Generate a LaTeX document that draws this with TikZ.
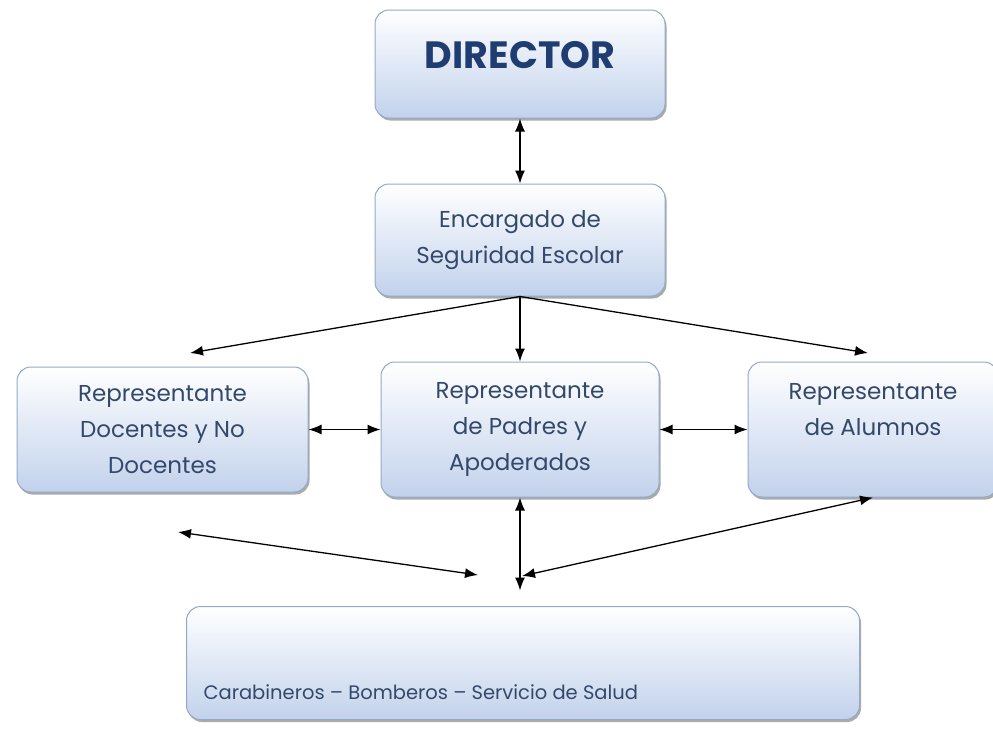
\documentclass[tikz,border=0pt]{standalone}
\usepackage{fontspec}
\setmainfont{Poppins}
\usetikzlibrary{arrows.meta, positioning, shadows}

\definecolor{borde}{HTML}{93A9CA}
\definecolor{fondo}{HTML}{C2D2EC}
\definecolor{letra}{HTML}{34496A}
\definecolor{titulo}{HTML}{1F3D70}

\tikzset{
  caja/.style={draw=borde, line width=1pt, rounded corners=14pt,
    top color=white, bottom color=fondo,
    drop shadow={shadow xshift=1.5pt, shadow yshift=-2.5pt, fill=black!60, opacity=.55}},
  texto/.style={text=letra, font=\fontsize{23}{36}\selectfont, align=center},
  flecha/.style={-{Latex[length=13pt,width=10pt]}, line width=1.3pt},
  dobleflecha/.style={{Latex[length=13pt,width=10pt]}-{Latex[length=13pt,width=10pt]}, line width=1.3pt},
}

\begin{document}
\begin{tikzpicture}[x=1pt, y=-1pt, node distance=65pt]
   \useasboundingbox (0,0) rectangle (993,729);

   % Cajas
   \node[caja, texto, minimum width=290pt, minimum height=108pt, text depth=18pt,
         font=\fontsize{38}{40}\selectfont\bfseries, text=titulo] (director) at (520,64) {DIRECTOR};
   \node[caja, texto, minimum width=290pt, minimum height=112pt] (encargado) [below=of director]
         {Encargado de\\Seguridad Escolar};
   \node[caja, texto, minimum width=278pt, minimum height=135pt] (padres) [below=of encargado]
         {Representante\\de Padres y\\Apoderados};
   \node[caja, texto, minimum width=291pt, minimum height=125pt] (docentes) [left=72pt of padres]
         {Representante\\Docentes y No\\Docentes};
   \node[caja, minimum width=250pt, minimum height=135pt] (alumnos) [right=88pt of padres] {};
   \node[texto] (alumnosT) at (873,410) {Representante\\de Alumnos};
   \node[caja, minimum width=673pt, minimum height=113pt] (servicios) at (523,663) {};
   \node[texto, anchor=west, font=\fontsize{19.5}{24}\selectfont] (serviciosT) at (200,692)
         {Carabineros -- Bomberos -- Servicio de Salud};

   % Puntos libres de las flechas
   \coordinate (c1) at (190,353);
   \coordinate (c3) at (868,353);
   \coordinate (d1) at (178,532);
   \coordinate (d2) at (478,575);
   \coordinate (p2) at ([yshift=-93pt]padres.south);
   \coordinate (a2) at (522,576);

   % Flechas
   \draw[dobleflecha] (director) -- (encargado);
   \draw[flecha] (encargado.south) -- (c1);
   \draw[flecha] (encargado.south) -- (padres.north);
   \draw[flecha] (encargado.south) -- (c3);
   \draw[dobleflecha] (docentes) -- (padres);
   \draw[dobleflecha] (padres) -- (alumnos);
   \draw[dobleflecha] (d1) -- (d2);
   \draw[dobleflecha] (padres.south) -- (p2);
   \draw[dobleflecha] (alumnos.south) -- (a2);
\end{tikzpicture}
\end{document}
